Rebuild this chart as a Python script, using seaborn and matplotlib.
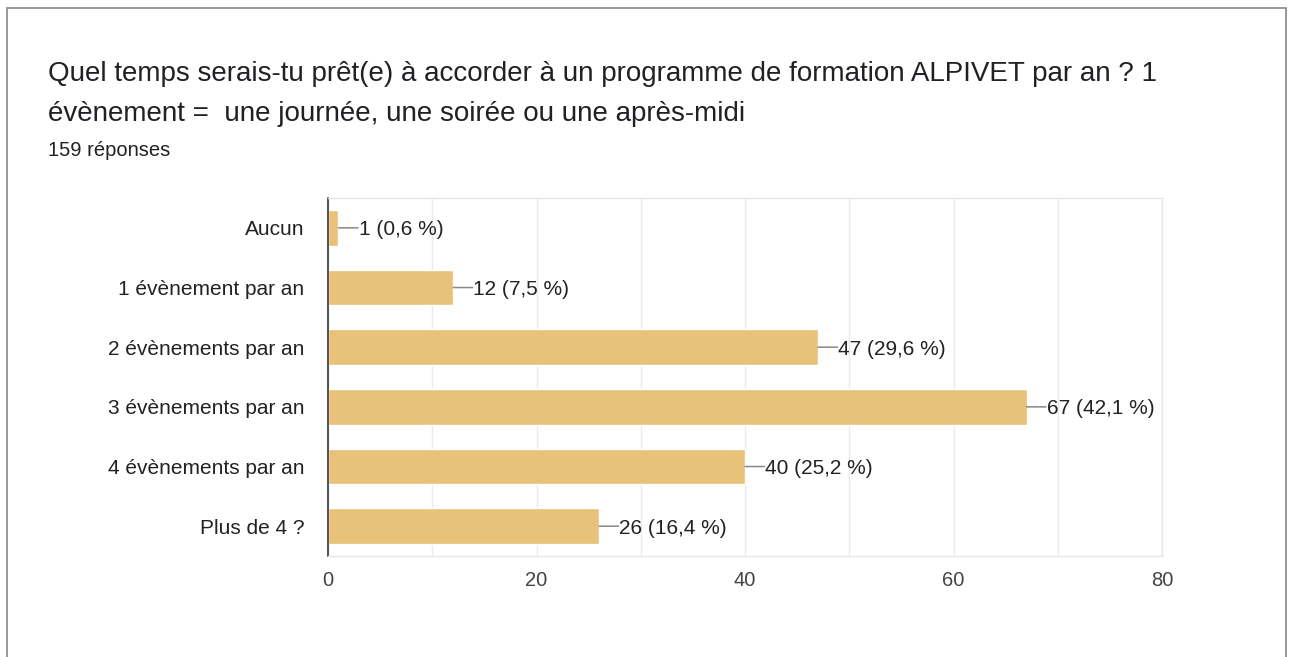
import matplotlib
matplotlib.use("Agg")
import matplotlib.pyplot as plt
import seaborn as sns
import pandas as pd
from matplotlib.patches import Rectangle

categories = [
    "Aucun",
    "1 évènement par an",
    "2 évènements par an",
    "3 évènements par an",
    "4 évènements par an",
    "Plus de 4 ?",
]
counts = [1, 12, 47, 67, 40, 26]
percents = ["0,6", "7,5", "29,6", "42,1", "25,2", "16,4"]
x_ticks = [0, 20, 40, 60, 80]

title = ("Quel temps serais-tu prêt(e) à accorder à un programme de formation ALPIVET par an ? 1\n"
         "évènement =  une journée, une soirée ou une après-midi")
subtitle = "159 réponses"


def main():
    sns.set_style("white")
    plt.rcParams["font.family"] = ["Liberation Sans", "DejaVu Sans"]

    df = pd.DataFrame({"cat": categories, "n": counts})

    fig = plt.figure(figsize=(12.9, 6.57), dpi=100)
    ax = fig.add_axes([0.2543, 0.1537, 0.6465, 0.5449])

    sns.barplot(data=df, x="n", y="cat", orient="h", color="#e8c279",
                width=0.6, saturation=1, ax=ax)

    ax.set_xlim(0, 80)
    ax.set_xticks(range(0, 81, 10))
    ax.set_xticklabels([str(t) if t in x_ticks else "" for t in range(0, 81, 10)])
    ax.xaxis.grid(True, color="#ebebeb", linewidth=1)
    ax.set_axisbelow(True)
    ax.set_xlabel("")
    ax.set_ylabel("")
    ax.tick_params(axis="x", labelsize=14.5, colors="#444444", length=0, pad=11)
    ax.tick_params(axis="y", labelsize=15, colors="#222222", length=0, pad=17)

    for side in ["top", "right", "bottom"]:
        ax.spines[side].set_color("#e6e6e6")
        ax.spines[side].set_linewidth(1)
    ax.spines["left"].set_color("#333333")
    ax.spines["left"].set_linewidth(1.2)

    # leader line + value label
    for i, (n, p) in enumerate(zip(counts, percents)):
        ax.annotate("", xy=(n, i), xytext=(14, 0), textcoords="offset points",
                    arrowprops=dict(arrowstyle="-", color="#888888", lw=1.1,
                                    shrinkA=0, shrinkB=0))
        ax.annotate(f"{n} ({p} %)", xy=(n, i), xytext=(14.5, 0),
                    textcoords="offset points", ha="left", va="center_baseline",
                    fontsize=15, color="#222222")

    fig.text(48 / 1290, 1 - 94 / 657, title, fontsize=20, color="#202124",
             ha="left", va="center", linespacing=1.68)
    fig.text(48 / 1290, 1 - 150 / 657, subtitle, fontsize=14.5, color="#202124",
             ha="left", va="center")

    fig.patches.append(Rectangle((7 / 1290, -0.1), (1286 - 7) / 1290, 1.1 - 8 / 657,
                                 transform=fig.transFigure, fill=False,
                                 edgecolor="#888888", linewidth=1.2))

    fig.savefig("out.png", dpi=100)


if __name__ == "__main__":
    main()
